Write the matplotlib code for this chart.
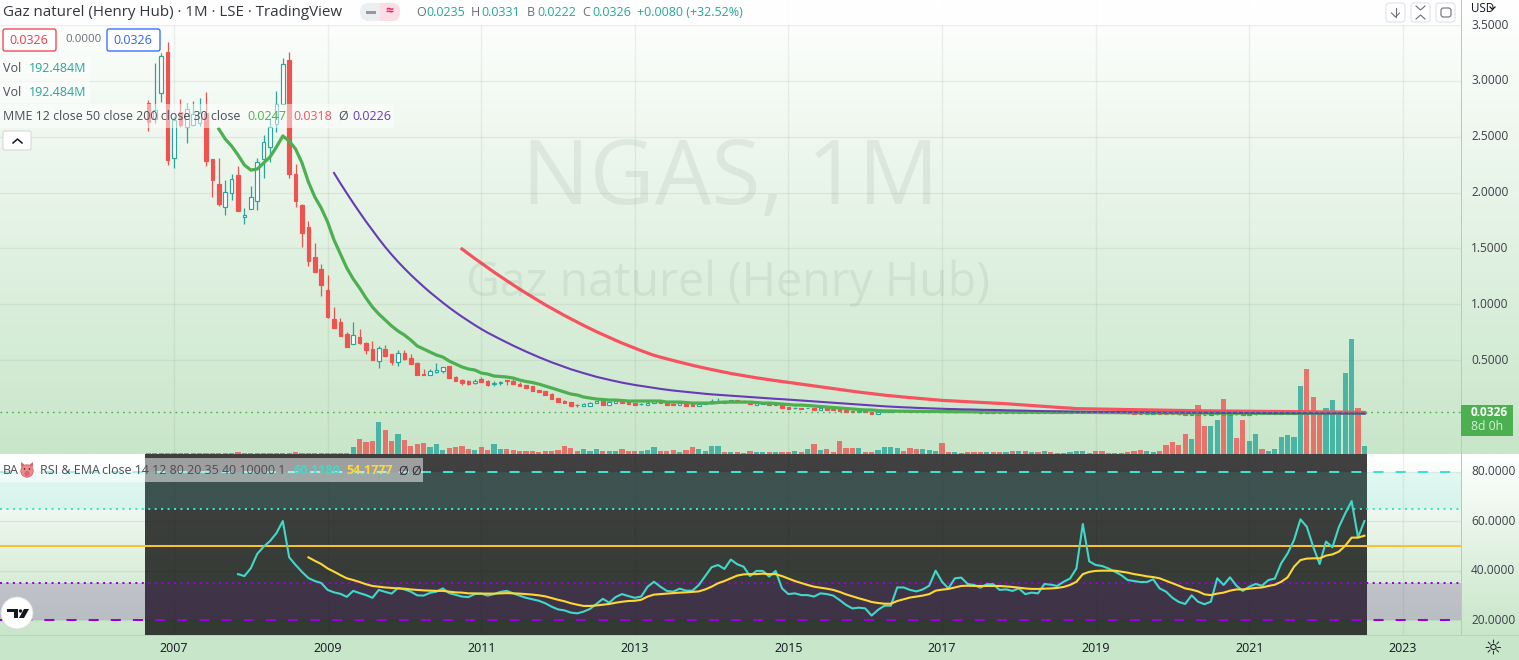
import numpy as np
import matplotlib
matplotlib.use('Agg')
import matplotlib.pyplot as plt
from matplotlib.colors import LinearSegmentedColormap
from matplotlib.patches import Rectangle, FancyBboxPatch, Circle, Polygon

plt.rcParams['font.family'] = ['Open Sans', 'DejaVu Sans']

# months counted from Jan 2007, first bar is Sep 2006
months = list(range(-4, 187))
year_ticks = [0, 24, 48, 72, 96, 120, 144, 168, 192]
year_labels = ['2007', '2009', '2011', '2013', '2015', '2017', '2019', '2021', '2023']
price_ticks = [0.5, 1.0, 1.5, 2.0, 2.5, 3.0, 3.5]
rsi_ticks = [20, 40, 60, 80]

opens = [2.802, 2.659, 2.892, 3.259, 2.310, 2.722, 2.587, 2.605, 2.623, 2.713,
         2.301, 2.077, 1.871, 1.997, 2.158, 1.782, 1.853, 1.925, 2.301, 2.408,
         2.614, 2.793, 3.187, 2.167, 1.889, 1.692, 1.424, 1.316, 1.128, .868,
         .842, .734, .645, .707, .654, .600, .492, .600, .555, .483,
         .564, .519, .475, .376, .367, .394, .403, .448, .349, .322,
         .313, .295, .331, .313, .287, .295, .322, .313, .287, .278,
         .269, .233, .224, .197, .161, .134, .125, .098, .090, .090,
         .116, .134, .098, .116, .125, .125, .116, .104, .098, .116,
         .134, .116, .107, .098, .107, .107, .090, .107, .116, .131,
         .134, .125, .143, .134, .125, .098, .107, .116, .098, .107,
         .081, .068, .072, .068, .072, .054, .072, .063, .063, .054,
         .045, .036, .045, .036, .018,
         .036, .040, .043, .046, .042, .038, .036, .039, .042, .044,
         .036, .033, .035, .036, .034, .032, .030, .032, .031, .029,
         .031, .029, .031, .029, .031, .029, .032, .030, .029, .030,
         .032, .034, .036, .034, .032, .030, .029, .028, .026, .024,
         .022, .020, .022, .024, .021, .018, .016, .014, .012, .015,
         .013, .012, .014, .016, .013, .017, .015, .013, .015, .018,
         .017, .018, .019, .021, .022, .023, .027, .024, .022, .020,
         .023, .025, .028, .031, .035, .0235]
closes = [2.632, 2.740, 3.223, 2.292, 2.650, 2.605, 2.749, 2.704, 2.713, 2.283,
          2.113, 1.898, 2.005, 2.122, 1.835, 1.800, 1.961, 2.274, 2.453, 2.587,
          2.793, 3.151, 2.167, 1.925, 1.638, 1.388, 1.289, 1.173, .886, .788,
          .716, .618, .725, .654, .591, .501, .609, .537, .483, .564,
          .510, .466, .367, .367, .403, .412, .439, .340, .313, .295,
          .287, .313, .304, .278, .295, .304, .313, .287, .269, .251,
          .224, .215, .188, .152, .125, .116, .090, .095, .107, .116,
          .134, .098, .125, .134, .116, .107, .098, .107, .116, .134,
          .116, .098, .098, .116, .090, .090, .107, .116, .134, .134,
          .116, .143, .125, .125, .107, .116, .116, .098, .116, .072,
          .063, .072, .063, .072, .054, .072, .054, .054, .045, .036,
          .036, .045, .036, .018, .036,
          .040, .043, .046, .042, .038, .036, .039, .042, .044, .036,
          .033, .035, .036, .034, .032, .030, .032, .031, .029, .031,
          .029, .031, .029, .031, .029, .032, .030, .029, .030, .032,
          .034, .036, .034, .032, .030, .029, .028, .026, .024, .022,
          .020, .022, .024, .021, .018, .016, .014, .012, .015, .013,
          .012, .014, .016, .013, .017, .015, .013, .015, .018, .017,
          .018, .019, .021, .022, .023, .027, .024, .022, .020, .023,
          .025, .028, .031, .035, .0235, .0326]
highs = [2.829, 3.160, 3.250, 3.348, 2.677, 2.838, 2.802, 2.820, 2.847, 2.901,
         2.301, 2.310, 2.113, 2.167, 2.238, 1.862, 2.059, 2.310, 2.516, 2.668,
         2.910, 3.205, 3.259, 2.256, 1.898, 1.746, 1.549, 1.361, 1.262, .976,
         .877, .752, .842, .779, .663, .671, .627, .636, .555, .591,
         .591, .555, .483, .421, .421, .475, .439, .448, .358, .331,
         .322, .331, .349, .322, .313, .313, .322, .331, .304, .278,
         .269, .233, .224, .206, .161, .143, .125, .107, .116, .125,
         .134, .134, .134, .134, .143, .125, .116, .116, .134, .134,
         .143, .116, .116, .116, .107, .107, .107, .116, .152, .161,
         .134, .143, .143, .143, .125, .116, .116, .116, .116, .107,
         .081, .081, .072, .072, .072, .072, .072, .063, .063, .054,
         .045, .045, .045, .036, .036,
         .042, .045, .048, .048, .044, .040, .041, .044, .046, .046,
         .038, .037, .038, .038, .036, .034, .034, .034, .033, .033,
         .033, .033, .033, .033, .033, .034, .034, .032, .032, .034,
         .036, .038, .038, .036, .034, .032, .031, .030, .028, .026,
         .024, .024, .026, .026, .023, .020, .018, .016, .017, .017,
         .015, .016, .018, .018, .019, .019, .017, .017, .020, .020,
         .020, .021, .023, .024, .025, .029, .029, .026, .024, .025,
         .027, .030, .033, .037, .037, .0331]
lows = [2.552, 2.623, 2.811, 2.247, 2.220, 2.587, 2.444, 2.596, 2.596, 2.238,
        1.961, 1.880, 1.800, 1.934, 1.835, 1.719, 1.853, 1.844, 2.131, 2.274,
        2.543, 2.793, 2.131, 1.871, 1.513, 1.343, 1.289, 1.074, .877, .788,
        .716, .618, .645, .645, .555, .501, .430, .537, .457, .448,
        .501, .466, .367, .367, .367, .385, .385, .340, .313, .278,
        .278, .287, .304, .269, .269, .278, .278, .287, .269, .251,
        .224, .215, .188, .152, .125, .116, .090, .081, .090, .090,
        .116, .098, .098, .116, .116, .107, .098, .098, .098, .116,
        .116, .098, .098, .098, .090, .090, .090, .107, .116, .131,
        .116, .125, .125, .125, .107, .098, .107, .098, .098, .072,
        .063, .063, .063, .068, .054, .054, .054, .054, .045, .036,
        .036, .036, .036, .018, .018,
        .034, .038, .041, .040, .036, .034, .034, .037, .040, .034,
        .031, .031, .033, .032, .030, .028, .028, .029, .027, .027,
        .027, .027, .027, .027, .027, .027, .028, .027, .027, .028,
        .030, .032, .032, .030, .028, .027, .026, .024, .022, .020,
        .018, .018, .020, .019, .016, .014, .012, .010, .010, .011,
        .010, .010, .012, .011, .011, .013, .011, .011, .013, .015,
        .015, .016, .017, .019, .020, .021, .022, .020, .018, .018,
        .021, .023, .026, .029, .021, .0222]

# volume in millions
volumes = [23, 23, 23, 23, 23, 23, 23, 23, 23, 23,
           23, 23, 23, 23, 46, 23, 23, 23, 23, 23,
           23, 23, 23, 46, 23, 23, 23, 23, 23, 23, 23, 23,
           154, 338, 269, 292, 752, 568, 292, 453, 315, 177,
           223, 246, 154, 223, 85, 131, 154, 177, 108, 85,
           154, 85, 223, 108, 108, 92, 69, 69, 69, 46,
           69, 69, 92, 184, 138, 69, 115, 69, 115, 69,
           69, 69, 115, 69, 69, 69, 92, 161, 69, 69,
           92, 46, 92, 161, 115, 69, 184, 184, 46, 46,
           46, 23, 69, 46, 46, 46, 46, 46, 46, 69,
           46, 115, 230, 92, 115, 46, 299, 138, 138, 138,
           46, 46, 92, 161, 161, 138, 69, 138, 115, 115,
           92, 69, 253, 46, 46, 23, 46, 46, 46, 46,
           46, 46, 46, 69, 69, 69, 46, 46, 69, 46,
           23, 23, 46, 69, 69, 23, 69, 69, 23, 23,
           23, 46, 69, 92, 69, 46, 69, 207, 276, 207,
           460, 345, 1127, 644, 644, 782, 1265, 989, 368, 782,
           299, 460, 115, 69, 115, 391, 437, 391, 1587, 1978,
           1334, 943, 1058, 1242, 989, 1886, 2668, 1058, 192.484]

ema12_start = 7
ema12 = [2.570, 2.480, 2.417, 2.337, 2.247, 2.202, 2.211, 2.265, 2.319, 2.408,
         2.507, 2.462, 2.390, 2.265, 2.095, 1.961, 1.862, 1.737, 1.576, 1.450,
         1.325, 1.227, 1.146, 1.056, .976, .913, .859, .806, .761, .725,
         .680, .627, .600, .573, .546, .528, .492, .466, .439, .421,
         .412, .385, .376, .358, .354, .349, .340, .322, .309, .300,
         .286, .269, .251, .233, .215, .197, .188, .170, .161, .152,
         .148, .143, .143, .139, .134, .134, .134, .134, .134, .134,
         .125, .125, .125, .121, .116, .116, .116, .116, .121, .125,
         .125, .125, .125, .125, .121, .116, .116, .112, .107, .103,
         .098, .098, .094, .090, .085, .081, .076, .072, .067, .063,
         .058, .054, .054, .049, .045, .045, .044, .043, .043, .042,
         .042, .041, .041,
         .040, .040, .039, .039, .038, .038, .037, .037, .037, .036,
         .036, .036, .035, .035, .035, .034, .034, .034, .033, .033,
         .033, .033, .032, .032, .032, .031, .031, .031, .030, .030,
         .030, .029, .029, .029, .028, .028, .028, .027, .027, .027,
         .026, .026, .026, .026, .026, .025, .025, .025, .025, .025,
         .024, .024, .024, .024, .024, .024, .024, .024, .024, .024,
         .024, .024, .024, .024, .024, .024, .0247]
ema30_start = 25
ema30 = [2.176, 2.083, 1.994, 1.907, 1.823, 1.741, 1.663, 1.586, 1.513, 1.445,
         1.381, 1.321, 1.264, 1.210, 1.158, 1.108, 1.061, 1.015, .971, .929,
         .889, .851, .814, .779, .746, .716, .687, .658, .630, .603,
         .577, .552, .527, .504, .481, .460, .439, .419, .401, .384,
         .367, .351, .337, .324, .311, .299, .288, .278, .269, .260,
         .251, .243, .235, .228, .222, .215, .210, .204, .199, .194,
         .190, .186, .182, .178, .174, .170, .166, .162, .158, .154,
         .151, .147, .143, .139, .135, .131, .127, .123, .119, .115,
         .111, .107, .103, .099, .095, .091,
         .087, .084, .081, .078, .076, .073, .071, .069, .067, .065,
         .063, .062, .060, .059, .058, .056, .055, .054, .053, .051,
         .050, .049, .048, .046, .045, .044, .043, .042, .041, .040,
         .038, .038, .037, .037, .036, .036, .035, .035, .034, .034,
         .033, .033, .032, .032, .031, .031, .031, .030, .030, .030,
         .029, .029, .029, .028, .028, .028, .027, .027, .027, .027,
         .026, .026, .026, .026, .025, .025, .025, .025, .024, .024,
         .024, .024, .023, .023, .023, .0226]
ema50_start = 45
ema50 = [1.495, 1.452, 1.410, 1.369, 1.328, 1.288, 1.249, 1.211, 1.173, 1.136,
         1.100, 1.065, 1.030, .996, .964, .931, .900, .870, .840, .811,
         .783, .755, .729, .703, .678, .653, .630, .607, .585, .564,
         .543, .527, .512, .497, .482, .468, .454, .441, .428, .416,
         .404, .392, .381, .371, .361, .351, .342, .333, .325, .317,
         .309, .301, .293, .285, .277, .269, .261, .253, .245, .237,
         .229, .221, .214, .207, .200, .193,
         .187, .181, .175, .170, .165, .160, .155, .150, .145, .140,
         .137, .134, .131, .128, .125, .122, .119, .116, .113, .110,
         .106, .102, .098, .094, .090, .086, .082, .078, .074, .071,
         .066, .065, .064, .063, .062, .061, .060, .059, .058, .057,
         .056, .055, .054, .053, .052, .051, .050, .049, .048, .047,
         .046, .046, .045, .045, .044, .044, .043, .043, .042, .042,
         .041, .041, .040, .040, .039, .039, .038, .038, .037, .037,
         .036, .035, .034, .033, .032, .0318]

rsi_start = 10
rsi = [38.6, 37.8, 41.0, 46.8, 49.7, 52.0, 55.2, 60.1, 45.4, 42.3,
       39.5, 37.0, 35.8, 35.0, 32.2, 31.2, 30.6, 29.4, 31.8, 30.9,
       30.1, 29.0, 32.2, 31.4, 30.7, 33.0, 32.4, 31.5, 30.0, 29.9,
       31.0, 31.5, 32.8, 30.9, 30.2, 29.5, 29.3, 30.5, 30.7, 29.9,
       30.5, 31.4, 31.8, 30.8, 29.9, 29.0, 28.4, 27.8, 26.8, 25.4,
       24.3, 23.9, 23.0, 22.7, 23.4, 24.5, 26.5, 28.6, 27.0, 29.3,
       30.5, 29.7, 29.0, 29.5, 33.5, 35.5, 33.5, 31.8, 31.5, 32.7,
       31.9, 31.9, 34.2, 37.8, 41.4, 42.3, 40.7, 44.5, 42.6, 41.6,
       37.8, 39.9, 39.9, 37.6, 39.9, 32.8, 30.5, 30.8, 30.1, 30.1,
       29.5, 30.8, 30.5, 29.9, 28.1, 26.1, 24.7, 25.0, 24.7, 21.8,
       24.1, 25.8, 25.8, 33.2, 33.2, 32.2, 31.6, 32.4, 33.9, 40.0,
       35.5, 32.8, 36.9, 37.2, 34.6, 34.2, 33.1, 34.5, 34.5, 32.2,
       32.4, 31.8, 32.8, 30.5, 31.1, 30.8, 34.6, 34.3, 33.8, 35.5,
       36.8, 40.9, 58.9, 43.8, 42.3, 41.9, 40.9, 39.6, 38.2, 36.2,
       35.8, 35.4, 35.4, 36.5, 32.8, 31.5, 29.0, 27.3, 26.5, 30.0,
       27.4, 26.4, 27.4, 36.9, 34.2, 37.3, 33.9, 31.8, 33.5, 34.6,
       33.9, 36.2, 36.8, 43.0, 47.0, 52.4, 60.8, 57.8, 49.7, 42.7,
       51.8, 49.5, 57.6, 63.2, 68.2, 53.5, 60.118]
rsi_ema_start = 21
rsi_ema = [45.4, 44.0, 42.7, 40.9, 39.6, 38.2, 36.9, 36.2, 35.4, 34.5,
           33.8, 33.5, 33.2, 33.0, 32.8, 32.7, 32.4, 32.2, 32.0, 31.9,
           31.8, 31.8, 31.5, 31.2, 31.1, 30.8, 30.8, 30.7, 30.7, 30.7,
           30.8, 30.9, 30.8, 30.7, 30.5, 30.3,
           30.0, 29.6, 28.9, 28.2, 27.6, 26.8, 26.2, 25.7, 25.7, 25.9,
           26.2, 26.5, 27.0, 27.4, 27.7, 27.8, 28.2, 29.5, 30.3, 30.5,
           30.7, 30.9, 31.1, 31.2, 31.4, 31.6, 32.4, 33.5, 34.9, 35.8,
           36.9, 38.0, 38.5, 38.6, 38.6, 38.8,
           38.6, 38.6, 37.8, 36.8, 35.8, 35.0, 34.2, 33.5, 33.1, 32.7,
           32.2, 31.4, 30.4, 29.6, 28.8, 28.1, 27.3, 26.9, 26.6, 26.6,
           27.7, 28.4, 29.1, 29.5, 29.9, 30.5, 31.9, 32.3, 32.6, 33.2,
           33.8, 33.9, 33.8, 33.8, 33.8, 33.8, 33.8,
           33.6, 33.4, 33.1, 32.8, 32.6, 32.6, 32.7, 32.8, 33.0, 33.4,
           34.2, 35.5, 38.6, 39.5, 39.9, 40.0, 40.0, 40.0, 39.6, 39.2,
           38.6, 38.2, 37.7, 37.4, 36.9, 35.9, 34.9, 33.9, 32.8, 32.3,
           31.6, 30.4, 30.1, 30.7, 31.1, 31.9, 32.4, 32.4, 32.7, 33.0,
           33.2, 33.8, 34.3, 35.5, 37.3, 41.6, 44.3, 44.9, 45.0, 45.0,
           46.1, 46.6, 47.7, 50.1, 53.4, 53.4, 54.1777]

UP = '#26a69a'
DOWN = '#ef5350'
GRID = '#6b7f6b'
W, H = 1519, 660


def pane(x0, y0, x1, y1, **kw):
    return fig.add_axes([x0 / W, 1 - y1 / H, (x1 - x0) / W, (y1 - y0) / H], **kw)


fig = plt.figure(figsize=(W / 100, H / 100), dpi=100, facecolor='white')
ramp = LinearSegmentedColormap.from_list('ramp', ['#ffffff', '#c8e6c9'])

bg = pane(0, 0, W, H, zorder=0)
bg.axis('off')
grad = np.linspace(0, 1, 256).reshape(-1, 1)
bg.imshow(grad, cmap=ramp, extent=[0, W, 454, 0], aspect='auto')
bg.imshow(grad, cmap=ramp, extent=[0, W, 635, 454], aspect='auto')
bg.add_patch(Rectangle((0, 635), W, 25, color='#c8e6c9', lw=0))
bg.set_xlim(0, W)
bg.set_ylim(H, 0)

ax_p = pane(0, 0, 1461, 454, zorder=2)
ax_v = ax_p.twinx()
ax_r = pane(0, 454, 1461, 635, zorder=2)
for a in (ax_p, ax_r):
    a.set_xlim(-27.19, 201.09)
    a.set_facecolor('none')
    a.set_xticks([])
    a.set_yticks([])
    for s in a.spines.values():
        s.set_visible(False)
ax_v.set_facecolor('none')
ax_v.set_yticks([])
for s in ax_v.spines.values():
    s.set_visible(False)
ax_p.set_ylim(-0.340, 3.7245)
ax_v.set_ylim(0, 10533)
ax_r.set_ylim(13.92, 87.3)

# grid
for t in year_ticks:
    ax_p.axvline(t, color=GRID, alpha=0.11, lw=1, zorder=1)
    ax_r.axvline(t, color=GRID, alpha=0.11, lw=1, zorder=1)
for t in price_ticks:
    ax_p.axhline(t, color=GRID, alpha=0.11, lw=1, zorder=1)
for t in rsi_ticks:
    ax_r.axhline(t, color=GRID, alpha=0.11, lw=1, zorder=1)

# volume behind candles
x = np.array(months)
is_up = np.array(closes) >= np.array(opens)
ax_v.bar(x, volumes, width=0.8, color=np.where(is_up, UP, DOWN), alpha=0.78, lw=0, zorder=2)
ax_v.set_zorder(1)
ax_p.set_zorder(2)

# candles
for i, m in enumerate(months):
    col = UP if is_up[i] else DOWN
    ax_p.vlines(m, lows[i], highs[i], color=col, lw=0.9, zorder=3)
    ax_p.bar(m, abs(closes[i] - opens[i]), bottom=min(opens[i], closes[i]), width=0.58,
             facecolor='white' if is_up[i] else col, edgecolor=col, lw=0.85, zorder=4)

ax_p.axhline(closes[-1], color='#4caf50', lw=1, ls=(0, (1.2, 3)), zorder=8)
ax_p.plot(range(ema12_start, ema12_start + len(ema12)), ema12, color='#4caf50', lw=2.3, zorder=5)
ax_p.plot(range(ema50_start, ema50_start + len(ema50)), ema50, color='#f7525f', lw=2.3, zorder=6)
ax_p.plot(range(ema30_start, ema30_start + len(ema30)), ema30, color='#673ab7', lw=1.5, zorder=7)

# RSI pane
ax_r.fill_between([-27.19, -4.53], 20, 35, color='#6f7a78', alpha=0.16, lw=0, zorder=1)
ax_r.fill_between([186.4, 201.09], 20, 35, color='#6f7a78', alpha=0.16, lw=0, zorder=1)
ax_r.axvspan(-4.53, 186.4, color='black', alpha=0.75, lw=0, zorder=2)
ax_r.axhspan(65, 80, color='#40e0d0', alpha=0.13, lw=0, zorder=2.5)
ax_r.axhspan(20, 35, color='#9900dd', alpha=0.11, lw=0, zorder=2.5)
ax_r.axhline(80, color='#40e0d0', lw=1.45, ls=(0, (5, 6)), zorder=3)
ax_r.axhline(65, color='#40e0d0', lw=1.45, ls=(0, (1, 2.2)), zorder=3)
ax_r.axhline(50, color='#fbc02d', lw=1.45, zorder=3)
ax_r.axhline(35, color='#9900dd', lw=1.45, ls=(0, (1, 2.2)), zorder=3)
ax_r.axhline(20, color='#9900dd', lw=1.45, ls=(0, (5, 6)), zorder=3)
ax_r.plot(range(rsi_start, rsi_start + len(rsi)), rsi, color='#40d9c9', lw=1.5, zorder=4)
ax_r.plot(range(rsi_ema_start, rsi_ema_start + len(rsi_ema)), rsi_ema, color='#fdd835', lw=1.5, zorder=5)

# text and furniture on top, in pixel coordinates
ov = pane(0, 0, W, H, zorder=6)
ov.set_xlim(0, W)
ov.set_ylim(H, 0)
ov.axis('off')
ov.patch.set_alpha(0)


def label(px, py, s, color='#4a4d57', size=9.0, ha='left', **kw):
    ov.text(px, py, s, color=color, fontsize=size, ha=ha, va='center', **kw)


# watermarks
ov.text(730, 181, 'NGAS, 1M', fontsize=64.5, color='#5d6b60', alpha=0.1, ha='center', va='center', zorder=0)
ov.text(728, 283, 'Gaz naturel (Henry Hub)', fontsize=33.5, color='#5d6b60', alpha=0.1, ha='center', va='center', zorder=0)

ov.add_patch(Rectangle((1461, 0), 1, 635, color='#b9c9bb', lw=0))
ov.add_patch(Rectangle((0, 635), W, 1, color='#b9d3bb', lw=0))

# axis labels
for t, lab in zip(year_ticks, year_labels):
    label(174 + 6.4 * t, 648, lab, color='#131722', ha='center')
for t in price_ticks:
    label(1471, 416 - 111.7 * t, '%.4f' % t, color='#3c3f48', size=8.6)
for t in rsi_ticks:
    label(1471, 620 - (t - 20) * 2.467, '%.4f' % t, color='#3c3f48', size=8.6)

# last price box
ov.add_patch(Rectangle((1461, 405), 52, 31, color='#4caf50', lw=0))
label(1471, 413, '0.0326', color='white', weight='bold', size=8.6)
label(1471, 427, '8d 0h', color='#d5efd6', size=8.8)

# header
ov.add_patch(Rectangle((0, 0), 1461, 25, color='white', alpha=0.85, lw=0))
label(3, 12, 'Gaz naturel (Henry Hub) · 1M · LSE · TradingView', color='#33363f', size=10.9)
ov.add_patch(FancyBboxPatch((360, 3), 40, 18, boxstyle='round,pad=0,rounding_size=9', fc='#eceff2', ec='none'))
ov.add_patch(FancyBboxPatch((380, 3), 20, 18, boxstyle='round,pad=0,rounding_size=8', fc='#fbdde6', ec='none'))
ov.add_patch(Rectangle((380, 3), 8, 18, color='#fbdde6', lw=0))
ov.add_patch(Rectangle((366, 11), 10, 3, color='#9598a1', lw=0))
label(389, 11, '≈', color='#e91e63', size=10, ha='center', weight='bold')
for px, letter, val in [(416, 'O', '0.0235'), (471, 'H', '0.0331'), (527, 'B', '0.0222'), (582, 'C', '0.0326')]:
    label(px, 13, letter, color='#6a6d78')
    label(px + 10, 13, val, color=UP)
label(637, 13, '+0.0080 (+32.52%)', color=UP)

# boxes under the header
ov.add_patch(FancyBboxPatch((3, 29), 53, 22, boxstyle='round,pad=0,rounding_size=2', fc='white', ec='#f23645', lw=0.9))
label(29, 40, '0.0326', color='#f23645', ha='center')
label(65, 40, '0.0000', color='#6a6d78', size=8.2)
ov.add_patch(FancyBboxPatch((107, 29), 53, 22, boxstyle='round,pad=0,rounding_size=2', fc='white', ec='#2962ff', lw=0.9))
label(133, 40, '0.0326', color='#2962ff', ha='center')

for py in (68, 92):
    ov.add_patch(Rectangle((0, py - 12), 90, 23, color='white', alpha=0.5, lw=0))
    label(3, py, 'Vol', color='#4a4d57')
    label(29, py, '192.484M', color=UP)

ov.add_patch(Rectangle((0, 104), 394, 24, color='white', alpha=0.5, lw=0))
label(3, 116, 'MME 12 close 50 close 200 close 30 close', color='#4a4d57', size=8.9)
label(247, 116, '0.0247', color='#4caf50')
label(293, 116, '0.0318', color='#f7525f')
label(338, 116, 'Ø', color='#4a4d57')
label(352, 116, '0.0226', color='#673ab7')
ov.add_patch(FancyBboxPatch((3, 131), 28, 19, boxstyle='round,pad=0,rounding_size=2', fc='white', ec='#d6d8de', lw=0.8))
ov.plot([13, 17.5, 22], [143, 139, 143], color='#131722', lw=1.1)

# RSI legend
ov.add_patch(Rectangle((0, 458), 423, 24, color='white', alpha=0.5, lw=0))
label(3, 471, 'BA', color='#4a4d57')
ov.add_patch(Circle((27, 471), 6.2, fc='#f08a8f', ec='#c85a60', lw=0.5))
ov.add_patch(Polygon([(21, 462), (25, 465), (21, 467)], fc='#d9666c', ec='none'))
ov.add_patch(Polygon([(33, 462), (29, 465), (33, 467)], fc='#d9666c', ec='none'))
ov.add_patch(Circle((27, 473.5), 2.6, fc='#d9666c', ec='none'))
ov.add_patch(Circle((24.5, 469), 0.8, fc='#3a2020', ec='none'))
ov.add_patch(Circle((29.5, 469), 0.8, fc='#3a2020', ec='none'))
label(40, 471, 'RSI & EMA', color='#4a4d57')
label(102, 471, 'close 14 12 80 20 35 40 10000 1', color='#4a4d57', size=8.9)
label(294, 471, '60.1180', color='#40d9c9', weight='bold')
label(346, 471, '54.1777', color='#fdd835', weight='bold')
label(398, 471, 'Ø', color='#2a2c33')
label(411, 471, 'Ø', color='#2a2c33')

# TradingView mark
ov.add_patch(Circle((17, 613), 16, fc='white', ec='#d8dbe0', lw=0.6))
ov.add_patch(Polygon([(7, 609), (18, 609), (18, 618), (14, 618), (14, 612), (7, 612)], fc='#131722', ec='none'))
ov.add_patch(Circle((20.5, 611), 1.7, fc='#131722', ec='none'))
ov.add_patch(Polygon([(24, 609), (29, 609), (24, 618), (19, 618)], fc='#131722', ec='none'))

# top right buttons
for px in (1386, 1411, 1436):
    ov.add_patch(FancyBboxPatch((px, 3), 19, 19, boxstyle='round,pad=0,rounding_size=3', fc='white', ec='#e0e3eb', lw=0.8))
ov.plot([1395.5, 1395.5], [8, 17], color='#6a6d78', lw=0.8)
ov.plot([1391.5, 1395.5, 1399.5], [13, 17, 13], color='#6a6d78', lw=0.8)
ov.plot([1416, 1420.5, 1425], [6, 10, 6], color='#6a6d78', lw=0.8)
ov.plot([1416, 1420.5, 1425], [19, 15, 19], color='#6a6d78', lw=0.8)
ov.add_patch(FancyBboxPatch((1441, 8), 10, 9, boxstyle='round,pad=0,rounding_size=2.5', fc='none', ec='#6a6d78', lw=0.8))
label(1471, 8, 'USD', color='#131722', size=8.4)
ov.plot([1490, 1492.5, 1495], [7, 9.5, 7], color='#131722', lw=0.9)

# gear
label(1493, 648, '☼', color='#131722', size=15, ha='center', family=['DejaVu Sans'])

fig.savefig('out.png', dpi=100)
